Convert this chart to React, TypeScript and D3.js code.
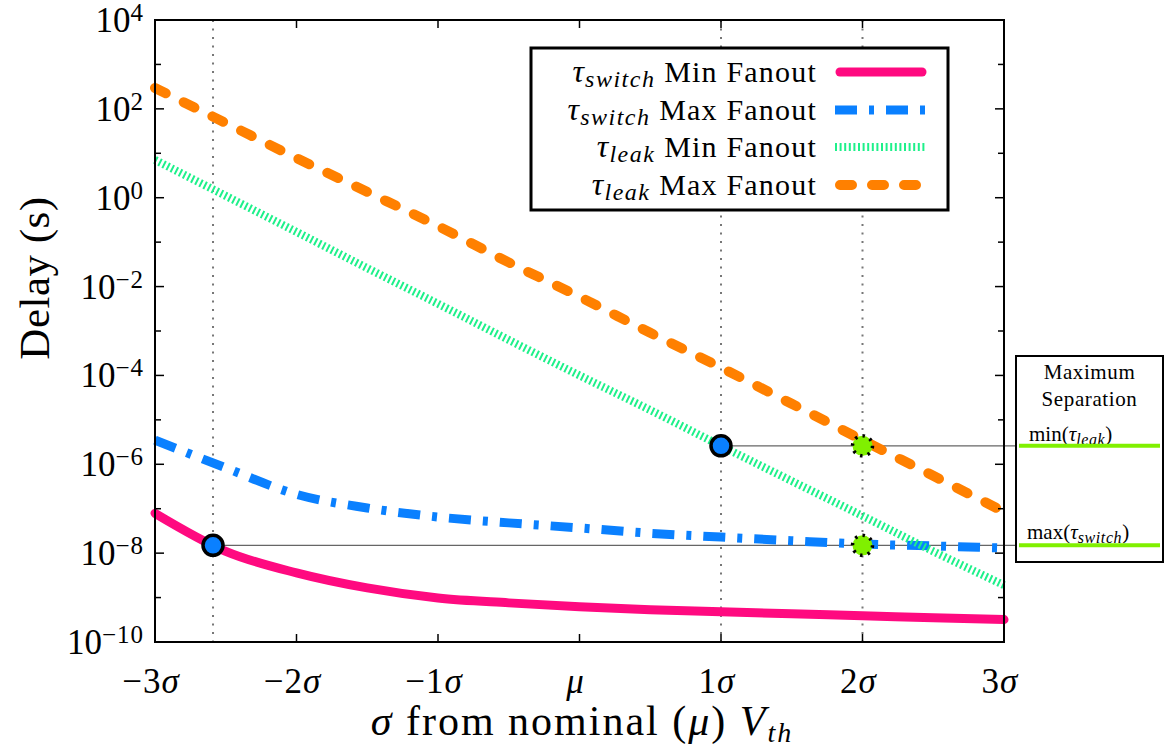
import React from 'react';
import * as d3 from 'd3';

// sigma offsets from nominal Vth
const sigma = [-3, -2.5, -2, -1.5, -1, -0.5, 0, 0.5, 1, 1.5, 2, 2.5, 3];

const switchMin = [7.9e-8, 1.1e-8, 3.6e-9, 1.65e-9, 9.8e-10, 7.6e-10, 6.2e-10, 5.3e-10, 4.8e-10, 4.3e-10, 3.9e-10, 3.5e-10, 3.2e-10];
const switchMax = [3.5e-6, 8.3e-7, 2.1e-7, 1.04e-7, 6.5e-8, 4.8e-8, 3.7e-8, 2.8e-8, 2.3e-8, 1.9e-8, 1.6e-8, 1.45e-8, 1.3e-8];
const leakMin = [7.1, 1.1, 0.17, 0.026, 4.1e-3, 6.3e-4, 1.0e-4, 1.66e-5, 2.6e-6, 4.2e-7, 6.9e-8, 1.1e-8, 1.9e-9];
const leakMax = [295, 48, 7.8, 1.35, 0.23, 0.035, 5.9e-3, 9.1e-4, 1.5e-4, 2.3e-5, 3.5e-6, 5.5e-7, 8.5e-8];

const xTicks = [-3, -2, -1, 0, 1, 2, 3];
const xTickLabels = ['−3', '−2', '−1', 'μ', '1', '2', '3'];
const yDecades = [-10, -9, -8, -7, -6, -5, -4, -3, -2, -1, 0, 1, 2, 3, 4];

const guideSigma = [-2.59, 1, 2];
const minLeak = 2.6e-6;
const maxSwitch = 1.5e-8;

const FONT = '"Liberation Serif", "DejaVu Serif", serif';

const series = [
  { name: 'switch', label: 'Min Fanout', values: switchMin, color: '#ff0a80', width: 9, dash: null, cap: 'round' },
  { name: 'switch', label: 'Max Fanout', values: switchMax, color: '#0a80ff', width: 9, dash: '22 12 5 12', cap: 'butt' },
  { name: 'leak', label: 'Min Fanout', values: leakMin, color: '#1ef08a', width: 8, dash: '2 2.6', cap: 'butt' },
  { name: 'leak', label: 'Max Fanout', values: leakMax, color: '#ff8000', width: 10, dash: '12 20', cap: 'round' },
];

export default function App() {
  const left = 155, right = 1004, top = 20, bottom = 642;
  const x = d3.scaleLinear().domain([-3, 3]).range([left, right]);
  const y = d3.scaleLog().domain([1e-10, 1e4]).range([bottom, top]);

  const line = d3.line<[number, number]>()
    .x(d => x(d[0]))
    .y(d => y(d[1]))
    .curve(d3.curveMonotoneX);

  const boxL = 1016, boxR = 1163, boxT = 356, boxB = 562;
  const legX = 531, legY = 48, legW = 417, legH = 162;
  const rowY = [72, 110, 147, 185];

  return (
    <svg width={1168} height={751} style={{ position: 'absolute', left: 0, top: 0, background: '#fff' }} fontFamily={FONT}>
      {/* guide lines */}
      {guideSigma.map(s => (
        <line key={s} x1={x(s)} x2={x(s)} y1={top} y2={bottom} stroke="#777" strokeWidth={2} strokeDasharray="2 6.5" />
      ))}
      <line x1={x(1)} x2={boxL} y1={y(minLeak)} y2={y(minLeak)} stroke="#666" strokeWidth={1.2} />
      <line x1={x(-2.59)} x2={boxL} y1={y(maxSwitch)} y2={y(maxSwitch)} stroke="#666" strokeWidth={1.2} />

      {/* curves */}
      {series.map((s, i) => (
        <path key={i}
          d={line(sigma.map((v, j) => [v, s.values[j]] as [number, number])) || ''}
          fill="none" stroke={s.color} strokeWidth={s.width}
          strokeDasharray={s.dash || undefined} strokeLinecap={s.cap as any} />
      ))}

      {/* markers */}
      <circle cx={x(1)} cy={y(minLeak)} r={10} fill="#0a80ff" stroke="#000" strokeWidth={3.5} />
      <circle cx={x(-2.59)} cy={y(maxSwitch)} r={10} fill="#0a80ff" stroke="#000" strokeWidth={3.5} />
      <circle cx={x(2)} cy={y(minLeak)} r={10} fill="#80f000" stroke="#000" strokeWidth={3.5} strokeDasharray="2.5 5.3" />
      <circle cx={x(2)} cy={y(maxSwitch)} r={10} fill="#80f000" stroke="#000" strokeWidth={3.5} strokeDasharray="2.5 5.3" />

      {/* frame */}
      <rect x={left} y={top} width={right - left} height={bottom - top} fill="none" stroke="#000" strokeWidth={2} />
      {xTicks.map((t, i) => (
        <g key={t}>
          <line x1={x(t)} x2={x(t)} y1={bottom} y2={bottom - 8} stroke="#000" strokeWidth={1.5} />
          <line x1={x(t)} x2={x(t)} y1={top} y2={top + 8} stroke="#000" strokeWidth={1.5} />
          <text x={x(t) - 4} y={693} textAnchor="middle" fontSize={35} letterSpacing={1}>
            {t === 0 ? <tspan fontStyle="italic">μ</tspan> : <>{xTickLabels[i]}<tspan fontStyle="italic">σ</tspan></>}
          </text>
        </g>
      ))}
      {yDecades.map(e => {
        const major = e % 2 === 0;
        const len = major ? 9 : 6;
        const yy = y(Math.pow(10, e));
        return (
          <g key={e}>
            <line x1={left} x2={left + len} y1={yy} y2={yy} stroke="#000" strokeWidth={1.5} />
            <line x1={right} x2={right - len} y1={yy} y2={yy} stroke="#000" strokeWidth={1.5} />
            {major && (
              <text x={144} y={yy + 12} textAnchor="end" fontSize={35}>
                10<tspan dy={-11} fontSize={25} letterSpacing={1}>{e < 0 ? '−' + (-e) : e}</tspan>
              </text>
            )}
          </g>
        );
      })}

      {/* axis titles */}
      <text transform="translate(49,278) rotate(-90)" textAnchor="middle" fontSize={43} letterSpacing={0.5}>Delay (s)</text>
      <text x={582} y={735} textAnchor="middle" fontSize={42} letterSpacing={2}>
        <tspan fontStyle="italic">σ</tspan> from nominal (<tspan fontStyle="italic">μ</tspan>) <tspan fontStyle="italic">V</tspan>
        <tspan dy={7} fontSize={28} fontStyle="italic">th</tspan>
      </text>

      {/* legend */}
      <rect x={legX} y={legY} width={legW} height={legH} fill="#fff" stroke="#000" strokeWidth={3} />
      {series.map((s, i) => (
        <g key={i}>
          <text x={817} y={rowY[i] + 10} textAnchor="end" fontSize={30} letterSpacing={1.2}>
            <tspan fontStyle="italic" fontSize={32}>τ</tspan>
            <tspan dy={5} fontSize={24} fontStyle="italic" letterSpacing={1.5}>{s.name}</tspan>
            <tspan dy={-5}> {s.label}</tspan>
          </text>
          <line x1={s.cap === 'round' ? 840 : 835} x2={s.cap === 'round' ? 922 : 927} y1={rowY[i]} y2={rowY[i]}
            stroke={s.color} strokeWidth={s.width} strokeDasharray={s.dash || undefined} strokeLinecap={s.cap as any} />
        </g>
      ))}

      {/* maximum separation box */}
      <rect x={boxL} y={boxT} width={boxR - boxL} height={boxB - boxT} fill="#fff" stroke="#000" strokeWidth={2} />
      <text x={(boxL + boxR) / 2} y={379} textAnchor="middle" fontSize={21} letterSpacing={0.6}>Maximum</text>
      <text x={(boxL + boxR) / 2} y={406} textAnchor="middle" fontSize={21} letterSpacing={0.6}>Separation</text>
      <text x={1029} y={y(minLeak) - 5} fontSize={21}>
        min(<tspan fontStyle="italic">τ</tspan><tspan dy={4} fontSize={16} fontStyle="italic" letterSpacing={0.6}>leak</tspan><tspan dy={-4}>)</tspan>
      </text>
      <text x={1027} y={y(maxSwitch) - 6} fontSize={21}>
        max(<tspan fontStyle="italic">τ</tspan><tspan dy={4} fontSize={16} fontStyle="italic" letterSpacing={0.6}>switch</tspan><tspan dy={-4}>)</tspan>
      </text>
      <line x1={boxL + 3} x2={boxR - 3} y1={y(minLeak)} y2={y(minLeak)} stroke="#80f000" strokeWidth={4} />
      <line x1={boxL + 3} x2={boxR - 3} y1={y(maxSwitch)} y2={y(maxSwitch)} stroke="#80f000" strokeWidth={4} />
    </svg>
  );
}
